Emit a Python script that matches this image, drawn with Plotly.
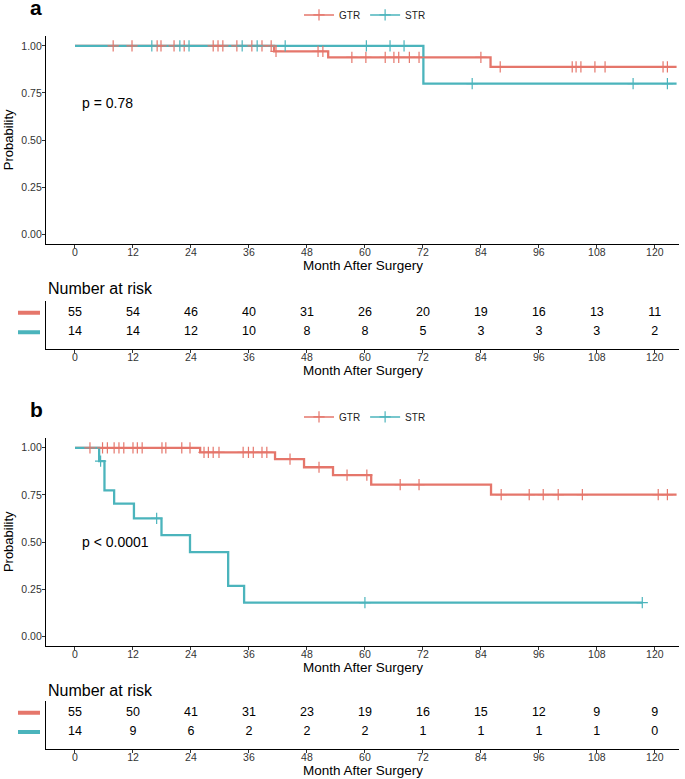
import plotly.graph_objects as go

# ---------------- data ----------------
months = [0, 12, 24, 36, 48, 60, 72, 84, 96, 108, 120]
group_names = ["GTR", "STR"]

# Panel a
a_gtr_event_times = [41.2, 52.4, 86.0]
a_gtr_surv = [0.971, 0.939, 0.889]
a_gtr_censor = [7.9, 11.8, 17.0, 17.8, 20.5, 22.6, 28.6, 29.6, 30.6, 33.5, 36.6, 38.7, 40.6,
                41.6, 50.3, 51.3, 57.3, 60.2, 64.2, 66.0, 67.0, 69.2, 71.2, 84.0,
                88.0, 102.9, 103.7, 104.7, 107.6, 109.7, 121.7, 122.6]
a_gtr_end = 124.5
a_str_event_times = [72.1]
a_str_surv = [0.80]
a_str_censor = [15.9, 21.7, 23.6, 34.6, 37.7, 43.5, 60.3, 65.2, 68.1, 82.2, 115.5, 122.6]
a_str_end = 124.5
a_gtr_risk = [55, 54, 46, 40, 31, 26, 20, 19, 16, 13, 11]
a_str_risk = [14, 14, 12, 10, 8, 8, 5, 3, 3, 3, 2]
a_pvalue = "p = 0.78"

# Panel b
b_gtr_event_times = [25.9, 41.4, 47.4, 53.4, 61.3, 86.1]
b_gtr_surv = [0.976, 0.940, 0.897, 0.855, 0.805, 0.752]
b_gtr_censor = [3.1, 5.7, 6.7, 8.1, 9.1, 10.1, 12.0, 12.9, 13.9, 18.0, 18.8, 22.1, 23.8,
                26.7, 27.6, 28.6, 29.8, 34.8, 35.9, 36.9, 38.7, 39.7, 44.5, 50.5, 56.3,
                60.4, 67.3, 71.2, 88.2, 94.0, 96.9, 100.0, 105.0, 120.7, 122.6]
b_gtr_end = 124.5
b_str_event_times = [5.0, 6.1, 8.1, 12.2, 17.9, 23.8, 31.7, 35.0]
b_str_surv = [0.929, 0.774, 0.704, 0.626, 0.537, 0.447, 0.268, 0.179]
b_str_censor = [5.3, 16.9, 60.0, 117.4]
b_str_end = 117.4
b_gtr_risk = [55, 50, 41, 31, 23, 19, 16, 15, 12, 9, 9]
b_str_risk = [14, 9, 6, 2, 2, 2, 1, 1, 1, 1, 0]
b_pvalue = "p < 0.0001"

y_ticks = [0, 0.25, 0.5, 0.75, 1.0]
y_ticktext = ["0.00", "0.25", "0.50", "0.75", "1.00"]

# ---------------- style ----------------
W, H = 685, 779
RED = "#E5766B"
TEAL = "#4BB4BC"
NARROW = "Liberation Sans Narrow, Arial Narrow, Liberation Sans, Arial, sans-serif"
REG = "Liberation Sans, Arial, sans-serif"


def fx(px):
    return px / W


def fy(px):
    return 1 - px / H


def surv_at(t, ev_t, ev_s):
    s = 1.0
    for et, es in zip(ev_t, ev_s):
        if et <= t:
            s = es
    return s


def step_xy(ev_t, ev_s, end):
    xs, ys = [0.0], [1.0]
    for et, es in zip(ev_t, ev_s):
        xs.append(et)
        ys.append(es)
    xs.append(end)
    ys.append(ys[-1])
    return xs, ys


fig = go.Figure()

panels = [
    dict(xa="x", ya="y", xt="x2", yt="y2", legend="legend",
         groups=[(a_gtr_event_times, a_gtr_surv, a_gtr_censor, a_gtr_end, RED),
                 (a_str_event_times, a_str_surv, a_str_censor, a_str_end, TEAL)],
         risks=[a_gtr_risk, a_str_risk]),
    dict(xa="x3", ya="y3", xt="x4", yt="y4", legend="legend2",
         groups=[(b_gtr_event_times, b_gtr_surv, b_gtr_censor, b_gtr_end, RED),
                 (b_str_event_times, b_str_surv, b_str_censor, b_str_end, TEAL)],
         risks=[b_gtr_risk, b_str_risk]),
]

for p in panels:
    for (et, es, ce, end, col) in p["groups"]:
        xs, ys = step_xy(et, es, end)
        fig.add_trace(go.Scatter(x=xs, y=ys, mode="lines", line=dict(color=col, width=2.3, shape="hv"),
                                 xaxis=p["xa"], yaxis=p["ya"], showlegend=False, hoverinfo="skip"))
    for (et, es, ce, end, col) in p["groups"]:
        fig.add_trace(go.Scatter(x=ce, y=[surv_at(t, et, es) for t in ce], mode="markers",
                                 marker=dict(symbol="cross-thin", size=8, color=col,
                                             line=dict(color=col, width=1.2)),
                                 xaxis=p["xa"], yaxis=p["ya"], showlegend=False, hoverinfo="skip"))
    for name, (et, es, ce, end, col) in zip(group_names, p["groups"]):
        fig.add_trace(go.Scatter(x=[None], y=[None], mode="lines+markers", name=name,
                                 line=dict(color=col, width=1.5),
                                 marker=dict(symbol="cross-thin", size=8, color=col,
                                             line=dict(color=col, width=1.2)),
                                 xaxis=p["xa"], yaxis=p["ya"], legend=p["legend"]))
    for row, risk in zip([2, 1], p["risks"]):
        fig.add_trace(go.Scatter(x=months, y=[row] * len(months), mode="text",
                                 text=[str(v) for v in risk],
                                 textfont=dict(size=12.5, color="black", family=NARROW),
                                 xaxis=p["xt"], yaxis=p["yt"], showlegend=False,
                                 hoverinfo="skip", cliponaxis=False))

tickfont = dict(size=10.5, color="#333333", family=NARROW)
xcommon = dict(range=[-6, 125], tickmode="array", tickvals=months, ticktext=[str(m) for m in months],
               ticks="outside", ticklen=3, tickwidth=1, tickcolor="#333333", ticklabelstandoff=-5,
               showline=True, linecolor="black", linewidth=1.3, showgrid=False, zeroline=False,
               tickfont=tickfont, domain=[fx(46), fx(679)])
ymain = dict(range=[-0.05, 1.05], tickmode="array", tickvals=y_ticks, ticktext=y_ticktext,
             ticks="outside", ticklen=3, tickwidth=1, tickcolor="#333333", ticklabelstandoff=-2,
             showline=True, linecolor="black", linewidth=1.3, showgrid=False, zeroline=False,
             tickfont=tickfont)
ytable = dict(range=[0.128, 2.59], showticklabels=False, ticks="", showline=True,
              linecolor="black", linewidth=1.3, showgrid=False, zeroline=False)

OFF = 403
TOFF = 401
fig.update_layout(
    width=W, height=H, margin=dict(l=0, r=0, t=0, b=0),
    paper_bgcolor="white", plot_bgcolor="white",
    xaxis=dict(xcommon, anchor="y"),
    yaxis=dict(ymain, domain=[fy(242.5), fy(34.5)], anchor="x"),
    xaxis2=dict(xcommon, anchor="y2"),
    yaxis2=dict(ytable, domain=[fy(348), fy(300)], anchor="x2"),
    xaxis3=dict(xcommon, anchor="y3"),
    yaxis3=dict(ymain, domain=[fy(242.5 + OFF), fy(34.5 + OFF)], anchor="x3"),
    xaxis4=dict(xcommon, anchor="y4"),
    yaxis4=dict(ytable, domain=[fy(348 + TOFF), fy(300 + TOFF)], anchor="x4"),
    legend=dict(orientation="h", x=fx(365), xanchor="center", y=fy(13), yanchor="middle",
                font=dict(size=10, color="#222222", family=REG), bgcolor="rgba(0,0,0,0)",
                itemwidth=30, tracegroupgap=0),
    legend2=dict(orientation="h", x=fx(365), xanchor="center", y=fy(13 + OFF), yanchor="middle",
                 font=dict(size=10, color="#222222", family=REG), bgcolor="rgba(0,0,0,0)",
                 itemwidth=30, tracegroupgap=0),
    showlegend=True,
)

annotations = []
shapes = []
for i, (letter, pval, pval_y) in enumerate([("a", a_pvalue, 0.695), ("b", b_pvalue, 0.50)]):
    o = OFF * i
    to = TOFF * i
    yref_main = "y" if i == 0 else "y3"
    xref_main = "x" if i == 0 else "x3"
    annotations += [
        dict(text="<b>%s</b>" % letter, x=fx(36), y=fy(6 + o), xref="paper", yref="paper",
             xanchor="center", yanchor="middle", showarrow=False,
             font=dict(size=21, color="black", family=REG)),
        dict(text="Probability", x=fx(8), y=fy(138.5 + o), xref="paper", yref="paper",
             textangle=-90, xanchor="center", yanchor="middle", showarrow=False,
             font=dict(size=13, color="black", family=NARROW)),
        dict(text="Month After Surgery", x=fx(362.5), y=fy(264.5 + o), xref="paper", yref="paper",
             xanchor="center", yanchor="middle", showarrow=False,
             font=dict(size=13.5, color="black", family=NARROW)),
        dict(text="Number at risk", x=fx(46), y=fy(287 + o), xref="paper", yref="paper",
             xanchor="left", yanchor="middle", showarrow=False,
             font=dict(size=16, color="black", family=NARROW)),
        dict(text="Month After Surgery", x=fx(362.5), y=fy(369 + to), xref="paper", yref="paper",
             xanchor="center", yanchor="middle", showarrow=False,
             font=dict(size=13.5, color="black", family=NARROW)),
        dict(text=pval, x=1, y=pval_y, xref=xref_main, yref=yref_main,
             xanchor="left", yanchor="middle", showarrow=False,
             font=dict(size=14, color="black", family=NARROW)),
    ]
    yt = "y2" if i == 0 else "y4"
    for row, col in zip([2, 1], [RED, TEAL]):
        shapes.append(dict(type="line", xref="paper", yref=yt, x0=fx(18), x1=fx(40), y0=row, y1=row,
                           line=dict(color=col, width=4)))

fig.update_layout(annotations=annotations, shapes=shapes)
fig.write_html("out.html", config={"displayModeBar": False},
               post_script="document.body.style.margin='0';document.body.style.overflow='hidden';")
